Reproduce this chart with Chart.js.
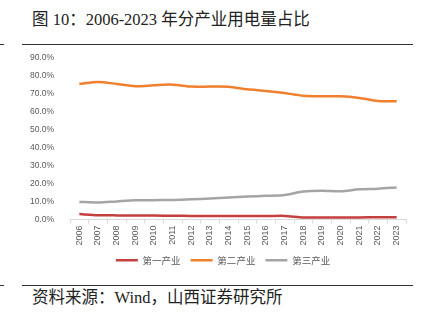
<!DOCTYPE html>
<html>
<head>
<meta charset="utf-8">
<script src="https://cdn.jsdelivr.net/npm/chart.js@4"></script>
<style>
    body { margin: 0; width: 426px; height: 321px; background: #fff; position: relative; overflow: hidden; font-family: "Liberation Serif", "Noto Sans CJK SC", serif; }
    .title { position: absolute; left: 32px; top: 10px; font-size: 16.5px; line-height: 20px; color: #222; white-space: nowrap; }
    .rule { position: absolute; height: 1px; background: #333; }
    .source { position: absolute; left: 32px; top: 288px; font-size: 16.5px; line-height: 20px; color: #222; white-space: nowrap; }
    #wrap { position: absolute; left: 0; top: 45px; width: 426px; height: 230px; }
</style>
</head>
<body>
<div class="title">图 10：2006-2023 年分产业用电量占比</div>
<div class="rule" style="left:0;top:44px;width:4px"></div>
<div class="rule" style="left:22px;top:44px;width:391px"></div>
<div class="rule" style="left:0;top:285px;width:4px"></div>
<div class="rule" style="left:22px;top:285px;width:391px"></div>
<div class="source">资料来源：Wind，山西证券研究所</div>
<div id="wrap"><canvas id="chart"></canvas></div>
<script>
const years = ['2006', '2007', '2008', '2009', '2010', '2011', '2012', '2013', '2014', '2015',
    '2016', '2017', '2018', '2019', '2020', '2021', '2022', '2023'];
const primary = [3.0, 2.4, 2.3, 2.3, 2.2, 2.1, 2.0, 1.9, 1.9, 1.9, 1.9, 2.0, 1.1, 1.1, 1.1, 1.1, 1.3, 1.3];
const secondary = [75.7, 76.7, 75.6, 74.3, 74.8, 75.2, 74.1, 74.1, 74.0, 72.6, 71.7, 70.5, 69.0, 68.7, 68.7, 67.8, 66.1, 66.0];
const tertiary = [9.8, 9.5, 10.1, 10.7, 10.8, 10.9, 11.3, 11.7, 12.2, 12.8, 13.2, 13.7, 15.6, 16.1, 15.8, 16.8, 17.2, 17.9];
const seriesNames = ['第一产业', '第二产业', '第三产业'];

function makeLine(label, data, color) {
    return {
        label,
        data,
        borderColor: color,
        backgroundColor: color,
        borderWidth: 2.5,
        pointRadius: 0,
        tension: 0.25,
        fill: false
    };
}

// legend sits a bit right of the plot centre in the original
const legendShift = {
    id: 'legendShift',
    afterLayout(chart) {
        const lg = chart.legend;
        if (!lg) return;
        lg.left += 20;
        lg.right += 20;
    }
};

const ctx = document.getElementById('chart').getContext('2d');
new Chart(ctx, {
    type: 'line',
    data: {
        labels: years,
        datasets: [
            makeLine(seriesNames[0], primary, '#C4403F'),
            makeLine(seriesNames[1], secondary, '#F07F2E'),
            makeLine(seriesNames[2], tertiary, '#A5A5A5')
        ]
    },
    options: {
        responsive: true,
        maintainAspectRatio: false,
        animation: false,
        layout: { padding: { top: 0, right: 20, left: 0, bottom: 0 } },
        scales: {
            x: {
                offset: true,
                grid: { display: true, offset: true, drawOnChartArea: false, tickLength: 4, color: '#d9d9d9' },
                border: { color: '#d9d9d9' },
                ticks: {
                    color: '#595959',
                    font: { family: 'Liberation Sans', size: 9 },
                    minRotation: 90, maxRotation: 90, padding: 2, autoSkip: false
                },
                afterFit: scale => { scale.height = 26; }
            },
            y: {
                min: 0,
                max: 90,
                grid: { display: false },
                border: { display: false },
                ticks: {
                    stepSize: 10,
                    color: '#595959',
                    font: { family: 'Liberation Sans', size: 8.5 },
                    padding: 8,
                    callback: v => v.toFixed(1) + '%'
                },
                afterFit: scale => { scale.width = 70; }
            }
        },
        plugins: {
            legend: {
                display: true,
                position: 'bottom',
                labels: {
                    usePointStyle: true,
                    pointStyle: 'line',
                    pointStyleWidth: 22,
                    boxHeight: 3,
                    color: '#595959',
                    font: { family: 'Noto Sans CJK SC', size: 9.5 },
                    padding: 10
                }
            },
            tooltip: { enabled: false }
        }
    },
    plugins: [legendShift]
});
</script>
</body>
</html>
